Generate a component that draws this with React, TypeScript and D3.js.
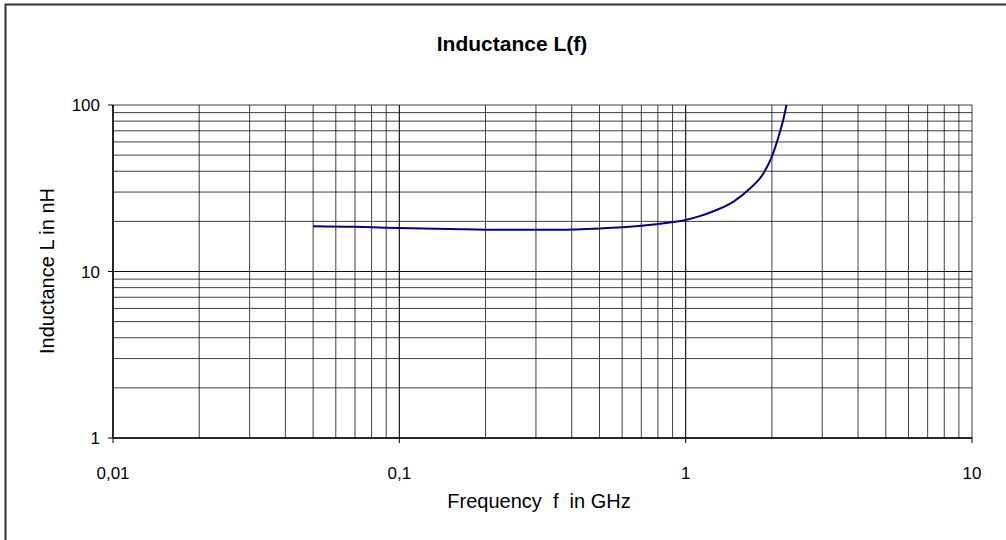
import React from "react";
import * as d3 from "d3";

const freqGHz = [0.05, 0.07, 0.09, 0.15, 0.225, 0.35, 0.5, 0.7, 0.88, 1.0, 1.12, 1.25, 1.47, 1.68, 1.87, 2.0, 2.11, 2.19, 2.25];
const inductanceNH = [18.7, 18.55, 18.3, 18.0, 17.8, 17.8, 18.1, 18.8, 19.7, 20.4, 21.5, 23.0, 26.3, 31.6, 38.9, 49, 64.5, 81, 100];
const xTickValues = [0.01, 0.1, 1, 10];
const xTickLabels = ["0,01", "0,1", "1", "10"];
const yTickValues = [1, 10, 100];
const yTickLabels = ["1", "10", "100"];

export default function App() {
  const W = 1006, H = 540;
  const left = 113, right = 972, top = 105, bottom = 438;
  const x = d3.scaleLog().domain([0.01, 10]).range([left, right]);
  const y = d3.scaleLog().domain([1, 100]).range([bottom, top]);

  const xGrid: number[] = [];
  for (let e = -2; e < 1; e++) for (let m = 1; m <= 10; m++) xGrid.push(m * Math.pow(10, e));
  const yGrid: number[] = [];
  for (let e = 0; e < 2; e++) for (let m = 1; m <= 10; m++) yGrid.push(m * Math.pow(10, e));

  const line = d3.line<number>().x((_, i) => x(freqGHz[i])).y((d) => y(d)).curve(d3.curveMonotoneX);
  const font = "'Liberation Sans', Arial, sans-serif";

  return (
    <svg width={W} height={H} style={{ position: "absolute", left: 0, top: 0 }} fontFamily={font}>
      <rect x={0} y={0} width={W} height={H} fill="#fff" />
      <rect x={5.5} y={4.5} width={W + 10} height={H + 10} fill="none" stroke="#333" strokeWidth={2} />
      <text x={512} y={51} textAnchor="middle" fontSize={21} fontWeight="bold">Inductance L(f)</text>
      {xGrid.map((v, i) => (
        <line key={"xg" + i} x1={x(v)} x2={x(v)} y1={top} y2={bottom} stroke="#000" strokeWidth={1} opacity={0.75} />
      ))}
      {yGrid.map((v, i) => (
        <line key={"yg" + i} x1={left} x2={right} y1={y(v)} y2={y(v)} stroke="#000" strokeWidth={1} opacity={0.75} />
      ))}
      <line x1={left} x2={left} y1={top} y2={bottom} stroke="#000" strokeWidth={1.5} />
      <line x1={left} x2={right} y1={bottom} y2={bottom} stroke="#000" strokeWidth={1.5} />
      {yTickValues.map((v, i) => (
        <g key={"yt" + i}>
          <line x1={left - 5} x2={left} y1={y(v)} y2={y(v)} stroke="#000" />
          <text x={left - 13} y={y(v) + 6} textAnchor="end" fontSize={17}>{yTickLabels[i]}</text>
        </g>
      ))}
      {xTickValues.map((v, i) => (
        <g key={"xt" + i}>
          <line x1={x(v)} x2={x(v)} y1={bottom} y2={bottom + 5} stroke="#000" />
          <text x={x(v)} y={bottom + 41} textAnchor="middle" fontSize={17}>{xTickLabels[i]}</text>
        </g>
      ))}
      <path d={line(inductanceNH) || ""} fill="none" stroke="#000080" strokeWidth={2} />
      <text x={539} y={508} textAnchor="middle" fontSize={20} style={{ whiteSpace: "pre" }}>Frequency  f  in GHz</text>
      <text transform={`translate(54,271) rotate(-90)`} textAnchor="middle" fontSize={20}>Inductance L in nH</text>
    </svg>
  );
}
